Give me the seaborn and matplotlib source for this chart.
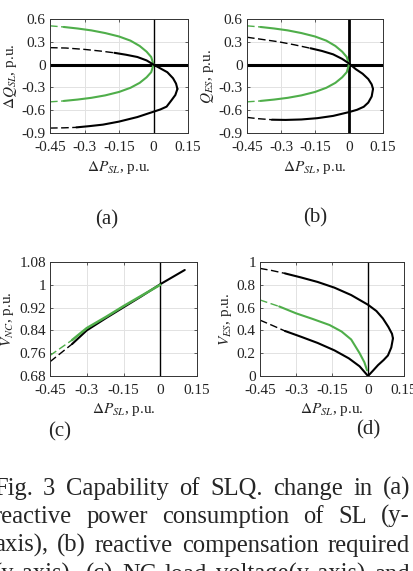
import matplotlib
matplotlib.use('Agg')
import matplotlib.pyplot as plt
import seaborn as sns
import numpy as np

sns.set_theme(style='white')
plt.rcParams['font.family'] = ['Liberation Serif', 'DejaVu Serif']
plt.rcParams['mathtext.fontset'] = 'stix'
plt.rcParams['lines.dashed_pattern'] = [5.5, 2.5]

GREEN = '#4fae4a'

# ---- data ----
x_ticks = [-0.45, -0.3, -0.15, 0, 0.15]
x_tick_labels = ['-0.45', '-0.3', '-0.15', '0', '0.15']
q_ticks = [-0.9, -0.6, -0.3, 0, 0.3, 0.6]
q_tick_labels = ['-0.9', '-0.6', '-0.3', '0', '0.3', '0.6']
vnc_ticks = [0.68, 0.76, 0.84, 0.92, 1.0, 1.08]
vnc_tick_labels = ['0.68', '0.76', '0.84', '0.92', '1', '1.08']
ves_ticks = [0, 0.2, 0.4, 0.6, 0.8, 1.0]
ves_tick_labels = ['0', '0.2', '0.4', '0.6', '0.8', '1']

# (a) and (b) green curves (same in both panels)
green_q_x = [-0.45, -0.39, -0.33, -0.27, -0.21, -0.15, -0.10, -0.06, -0.03, -0.01, 0.0]
green_q_up = [0.51, 0.495, 0.475, 0.45, 0.415, 0.37, 0.315, 0.245, 0.17, 0.10, 0.0]
green_q_lo = [-0.49, -0.478, -0.46, -0.437, -0.405, -0.36, -0.305, -0.24, -0.167, -0.10, 0.0]

# (a) black curve, two branches meeting at the nose
a_up_x = [-0.45, -0.38, -0.30, -0.23, -0.17, -0.12, -0.07, -0.03, 0.0, 0.03, 0.06, 0.085, 0.098, 0.104]
a_up_y = [0.223, 0.218, 0.20, 0.178, 0.155, 0.13, 0.10, 0.055, 0.0, -0.05, -0.10, -0.18, -0.25, -0.32]
a_lo_x = [-0.45, -0.39, -0.335, -0.28, -0.22, -0.15, -0.07, 0.0, 0.03, 0.057, 0.079, 0.095, 0.104]
a_lo_y = [-0.835, -0.832, -0.826, -0.81, -0.79, -0.75, -0.69, -0.62, -0.59, -0.553, -0.466, -0.40, -0.32]

# (b) black curve
b_up_x = [-0.45, -0.38, -0.31, -0.24, -0.17, -0.12, -0.07, -0.03, 0.0, 0.03, 0.06, 0.085, 0.10, 0.106]
b_up_y = [0.36, 0.33, 0.30, 0.26, 0.215, 0.18, 0.135, 0.075, 0.015, -0.06, -0.12, -0.19, -0.26, -0.32]
b_lo_x = [-0.45, -0.40, -0.34, -0.28, -0.21, -0.14, -0.07, 0.0, 0.035, 0.065, 0.085, 0.10, 0.106]
b_lo_y = [-0.695, -0.712, -0.725, -0.728, -0.722, -0.705, -0.675, -0.625, -0.595, -0.555, -0.50, -0.42, -0.32]

# (c) NC load voltage
c_green_x = [-0.45, -0.36, -0.30, -0.22, -0.15, -0.08, -0.03, 0.0]
c_green_y = [0.752, 0.806, 0.848, 0.888, 0.925, 0.96, 0.985, 1.0]
c_black_x = [-0.45, -0.36, -0.30, -0.22, -0.15, -0.08, 0.0, 0.05, 0.10]
c_black_y = [0.73, 0.792, 0.84, 0.884, 0.921, 0.958, 1.002, 1.027, 1.052]

# (d) ES voltage
d_up_x = [-0.45, -0.40, -0.346, -0.28, -0.21, -0.14, -0.07, 0.0, 0.035, 0.062, 0.085, 0.10, 0.104]
d_up_y = [0.944, 0.925, 0.90, 0.865, 0.825, 0.775, 0.71, 0.625, 0.57, 0.505, 0.43, 0.37, 0.33]
d_lo_x = [-0.45, -0.40, -0.346, -0.28, -0.21, -0.14, -0.08, -0.035, 0.0, 0.02, 0.042, 0.065, 0.083, 0.097, 0.104]
d_lo_y = [0.49, 0.445, 0.395, 0.345, 0.29, 0.225, 0.155, 0.085, 0.0, 0.045, 0.096, 0.14, 0.18, 0.25, 0.33]
d_green_x = [-0.45, -0.37, -0.30, -0.23, -0.16, -0.11, -0.07, -0.035, -0.015, -0.004]
d_green_y = [0.667, 0.61, 0.55, 0.5, 0.447, 0.39, 0.32, 0.2, 0.12, 0.05]

caption = ['Fig. 3 Capability of SLQ. change in (a)',
           'reactive power consumption of SL (y-',
           'axis), (b) reactive compensation required',
           '(y-axis), (c) NC load voltage(y-axis) and']

W, H = 413, 571
fig = plt.figure(figsize=(W / 100, H / 100), dpi=100)


def box(l, r, t, b):
    return fig.add_axes([l / W, 1 - b / H, (r - l) / W, (b - t) / H])


def curve(ax, x, y, cut, color, lw=1.5):
    # first `cut` segments dashed, rest solid
    sns.lineplot(x=x[:cut + 1], y=y[:cut + 1], sort=False, estimator=None,
                 color=color, lw=1.0, linestyle='--', ax=ax)
    sns.lineplot(x=x[cut:], y=y[cut:], sort=False, estimator=None,
                 color=color, lw=lw, ax=ax)


def style(ax, yt, ytl, ylim, ylab):
    ax.set_xlim(-0.45, 0.15)
    ax.set_ylim(*ylim)
    ax.set_xticks(x_ticks)
    ax.set_xticklabels(x_tick_labels)
    ax.set_yticks(yt)
    ax.set_yticklabels(ytl)
    ax.grid(True, color='#e2e2e2', lw=0.7)
    ax.set_axisbelow(True)
    ax.tick_params(direction='in', length=2, width=0.5, labelsize=11,
                   colors='#222222', left=True, bottom=True, top=True, right=True)
    ax.tick_params(axis='x', pad=6)
    ax.tick_params(axis='y', pad=3)
    for s in ax.spines.values():
        s.set_color('#333333')
        s.set_linewidth(0.7)
    ax.set_xlabel(r'$\Delta P_{SL}$, p.u.', fontsize=11, labelpad=3, color='#222222')
    ax.set_ylabel(ylab, fontsize=11, labelpad=2, color='#222222')


# (a)
ax = box(50, 188, 19, 133)
style(ax, q_ticks, q_tick_labels, (-0.9, 0.6), r'$\Delta Q_{SL}$, p.u.')
ax.axhline(0, color='black', lw=2.2)
ax.axvline(0, color='black', lw=1.0)
curve(ax, green_q_x, green_q_up, 1, GREEN)
curve(ax, green_q_x, green_q_lo, 1, GREEN)
curve(ax, a_up_x, a_up_y, 4, 'black')
curve(ax, a_lo_x, a_lo_y, 2, 'black')

# (b)
ax = box(247, 383, 19, 133)
style(ax, q_ticks, q_tick_labels, (-0.9, 0.6), r'$Q_{ES}$, p.u.')
ax.axhline(0, color='black', lw=2.2)
ax.axvline(0, color='black', lw=2.0)
curve(ax, green_q_x, green_q_up, 1, GREEN)
curve(ax, green_q_x, green_q_lo, 1, GREEN)
curve(ax, b_up_x, b_up_y, 4, 'black')
curve(ax, b_lo_x, b_lo_y, 2, 'black')

# (c)
ax = box(50, 197, 262, 376)
style(ax, vnc_ticks, vnc_tick_labels, (0.68, 1.08), r'$V_{NC}$, p.u.')
ax.axvline(0, color='black', lw=1.0)
curve(ax, c_black_x, c_black_y, 1, 'black')
curve(ax, c_green_x, c_green_y, 1, GREEN, lw=1.8)

# (d)
ax = box(260, 404, 262, 376)
style(ax, ves_ticks, ves_tick_labels, (0, 1.0), r'$V_{ES}$, p.u.')
ax.axvline(0, color='black', lw=1.0)
curve(ax, d_up_x, d_up_y, 2, 'black')
curve(ax, d_lo_x, d_lo_y, 2, 'black')
curve(ax, d_green_x, d_green_y, 1, GREEN)

for lab, (px, py) in zip(['(a)', '(b)', '(c)', '(d)'],
                         [(107, 220), (315, 218), (60, 432), (368, 430)]):
    fig.text(px / W, 1 - py / H, lab, fontsize=15, ha='center', va='center')

# justified caption, font shrunk so the longest line still has normal spaces
renderer = fig.canvas.get_renderer()
left, right = -6, 410
baselines = [495, 523, 552, 581]
fs = 18.5
probe = fig.text(0, 0, max(caption, key=len), fontsize=fs)
longest = max(probe.set_text(c) or probe.get_window_extent(renderer).width for c in caption)
probe.remove()
fs = fs * min(1.0, (right - left) * 0.975 / longest)
for line, yb in zip(caption, baselines):
    words = line.split(' ')
    texts = [fig.text(0, 1 - yb / H, w, fontsize=fs, va='baseline', ha='left') for w in words]
    widths = [t.get_window_extent(renderer).width for t in texts]
    gap = (right - left - sum(widths)) / (len(words) - 1)
    xpos = left
    for t, w in zip(texts, widths):
        t.set_x(xpos / W)
        xpos += w + gap

fig.savefig('out.png', dpi=100)
